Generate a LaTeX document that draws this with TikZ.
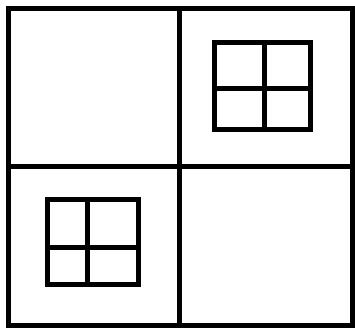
\documentclass[tikz,border=0pt]{standalone}
\begin{document}
\begin{tikzpicture}[x=1pt,y=-1pt,
  heavy/.style={line width=5pt, draw=black, line cap=rect},
  pane/.style={line width=5pt, draw=black}]
\useasboundingbox (0,0) rectangle (355,330);
\fill[white] (0,0) rectangle (355,330);
% outer frame
\draw[pane] (8,8.5) rectangle (352.5,325.5);
\draw[pane] (179,8.5) -- (179,325.5);
\draw[pane] (8,166) -- (352.5,166);
% top-right window
\draw[pane] (214.5,42.5) rectangle (310,129);
\draw[pane] (264,42.5) -- (264,129);
\draw[pane] (214.5,88.3) -- (310,88.3);
% bottom-left window
\draw[pane] (47.5,199) rectangle (138.5,284);
\draw[pane] (87.5,199) -- (87.5,284);
\draw[pane] (47.5,247.5) -- (138.5,247.5);
\end{tikzpicture}
\end{document}
